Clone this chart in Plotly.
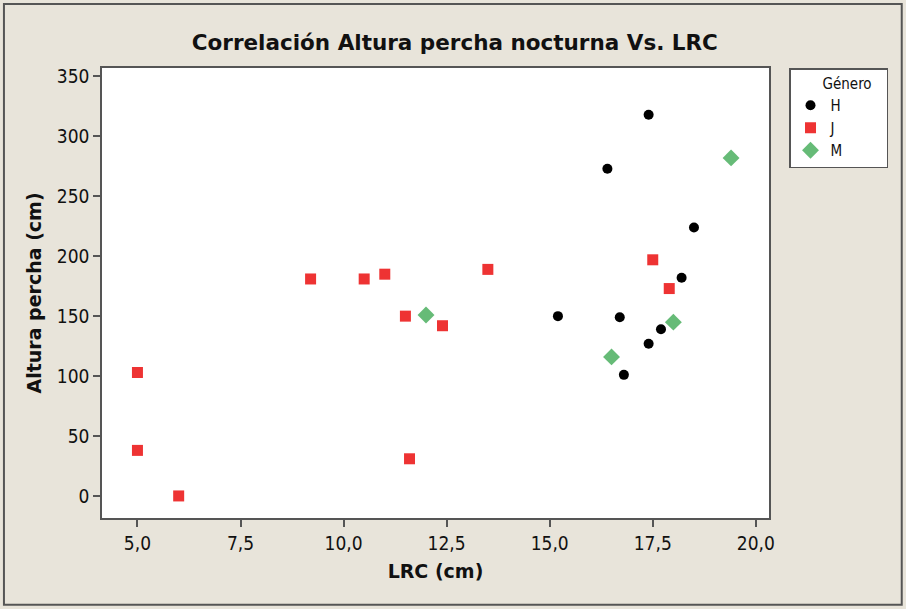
import plotly.graph_objects as go

# Data
h_lrc = [15.2, 16.4, 16.7, 16.8, 17.4, 17.4, 17.7, 18.2, 18.5]
h_alt = [150, 273, 149, 101, 127, 318, 139, 182, 224]

j_lrc = [5.0, 5.0, 6.0, 9.2, 10.5, 11.0, 11.5, 11.6, 12.4, 13.5, 17.5, 17.9]
j_alt = [103, 38, 0, 181, 181, 185, 150, 31, 142, 189, 197, 173]

m_lrc = [12.0, 16.5, 18.0, 19.4]
m_alt = [151, 116, 145, 282]

x_ticks = [5.0, 7.5, 10.0, 12.5, 15.0, 17.5, 20.0]
y_ticks = [0, 50, 100, 150, 200, 250, 300, 350]

FONT_C = "DejaVu Sans Condensed, DejaVu Sans, sans-serif"
FONT_B = "DejaVu Sans, sans-serif"
BG = "#E8E4DA"

fig = go.Figure()
fig.add_trace(go.Scatter(x=h_lrc, y=h_alt, mode="markers", name="H",
                         marker=dict(symbol="circle", size=10, color="#000000")))
fig.add_trace(go.Scatter(x=j_lrc, y=j_alt, mode="markers", name="J",
                         marker=dict(symbol="square", size=11, color="#EE3333")))
fig.add_trace(go.Scatter(x=m_lrc, y=m_alt, mode="markers", name="M",
                         marker=dict(symbol="diamond", size=13, color="#66BB77")))

fig.update_layout(
    width=906, height=609,
    margin=dict(l=102, r=137, t=68, b=91),
    paper_bgcolor=BG, plot_bgcolor="white",
    separators=",.",
    font=dict(family=FONT_C, color="#111111"),
    title=dict(text="<b>Correlación Altura percha nocturna Vs. LRC</b>",
               x=0.502, xanchor="center", y=0.931, yanchor="middle",
               font=dict(size=21.5, family=FONT_B, color="#111111")),
    xaxis=dict(range=[4.14, 20.32], tickvals=x_ticks, tickformat=".1f",
               ticks="outside", ticklen=7, tickcolor="#555555", tickwidth=1.5,
               showline=True, linecolor="#555555", linewidth=1.5, mirror=True,
               showgrid=False, zeroline=False,
               tickfont=dict(size=19, family=FONT_C),
               title=dict(text="<b>LRC (cm)</b>", font=dict(size=19, family=FONT_B), standoff=12)),
    yaxis=dict(range=[-18.4, 357], tickvals=y_ticks,
               ticks="outside", ticklen=7, tickcolor="#555555", tickwidth=1.5,
               showline=True, linecolor="#555555", linewidth=1.5, mirror=True,
               showgrid=False, zeroline=False,
               tickfont=dict(size=19, family=FONT_C),
               title=dict(text="<b>Altura percha (cm)</b>", font=dict(size=19, family=FONT_B), standoff=10)),
    legend=dict(x=1.03, xanchor="left", y=1.0, yanchor="top",
                bgcolor="white", bordercolor="#555555", borderwidth=1.5,
                font=dict(size=15, family=FONT_C),
                title=dict(text="&nbsp;&nbsp;&nbsp;&nbsp;&nbsp;&nbsp;&nbsp;Género&nbsp;&nbsp;&nbsp;",
                           font=dict(size=15, family=FONT_C)),
                itemwidth=30, tracegroupgap=0),
    showlegend=True,
)

# Outer frame around the whole chart
fig.add_shape(type="rect", xref="paper", yref="paper",
              x0=-0.147, x1=1.199, y0=-0.193, y1=1.142,
              line=dict(color="#555555", width=2), fillcolor="rgba(0,0,0,0)",
              layer="below")

fig.write_html("out.html", config={"displayModeBar": False},
               post_script="document.body.style.margin='0';")
